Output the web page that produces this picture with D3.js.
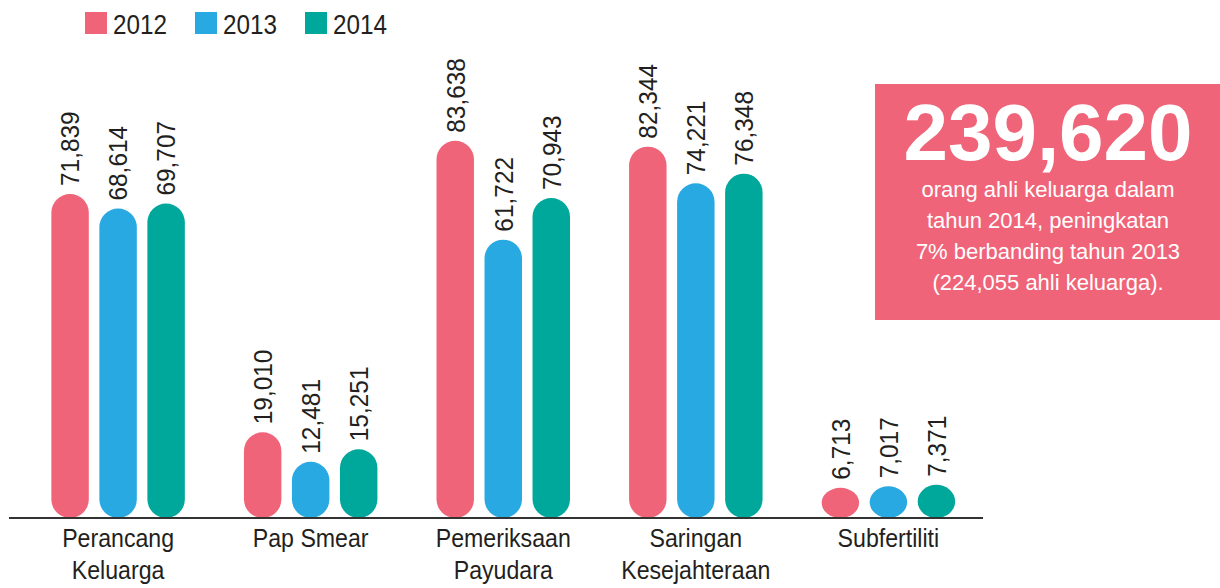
<!DOCTYPE html>
<html>
<head>
<meta charset="utf-8">
<script src="https://cdn.jsdelivr.net/npm/d3@7"></script>
<style>
  html, body { margin: 0; padding: 0; background: #fff; }
  svg { display: block; font-family: "Liberation Sans", Arial, sans-serif; }
</style>
</head>
<body>
<svg id="chart" width="1220" height="588"></svg>
<script>
// ---- data ----
const categories = ["Perancang Keluarga", "Pap Smear", "Pemeriksaan Payudara", "Saringan Kesejahteraan", "Subfertiliti"];
const categoryLines = [["Perancang", "Keluarga"], ["Pap Smear"], ["Pemeriksaan", "Payudara"], ["Saringan", "Kesejahteraan"], ["Subfertiliti"]];
const years = ["2012", "2013", "2014"];
const values2012 = [71839, 19010, 83638, 82344, 6713];
const values2013 = [68614, 12481, 61722, 74221, 7017];
const values2014 = [69707, 15251, 70943, 76348, 7371];
const calloutNumber = "239,620";
const calloutLines = ["orang ahli keluarga dalam", "tahun 2014, peningkatan", "7% berbanding tahun 2013", "(224,055 ahli keluarga)."];

// ---- styles ----
const colors = { "2012": "#F06479", "2013": "#29A9E1", "2014": "#00A79B" };
const textColor = "#231F20";
const seriesByYear = { "2012": values2012, "2013": values2013, "2014": values2014 };

const svg = d3.select("#chart");
const baseline = 518;

const x0 = d3.scaleBand().domain(categories).range([22, 984.5]).paddingInner(0.252).paddingOuter(0.125);
const x1 = d3.scaleBand().domain(years).range([0, x0.bandwidth()]).paddingInner(0.22).paddingOuter(0.11);
const y = d3.scaleLinear().domain([0, 100000]).range([baseline, baseline - 451]);

const rows = [];
categories.forEach((c, i) => years.forEach(yr => rows.push({ cat: c, year: yr, value: seriesByYear[yr][i] })));

const fmt = d3.format(",");

// bars (capsules)
const bw = x1.bandwidth();
svg.append("g").selectAll("rect").data(rows).join("rect")
  .attr("x", d => x0(d.cat) + x1(d.year))
  .attr("y", d => y(d.value))
  .attr("width", bw)
  .attr("height", d => baseline - y(d.value))
  .attr("rx", bw / 2)
  .attr("ry", bw / 2)
  .attr("fill", d => colors[d.year]);

// value labels
svg.append("g").selectAll("text").data(rows).join("text")
  .attr("transform", d => `translate(${x0(d.cat) + x1(d.year) + bw / 2},${y(d.value) - 8}) rotate(-90) scale(0.94,1)`)
  .attr("text-anchor", "start")
  .attr("dominant-baseline", "central")
  .attr("font-size", 26)
  .attr("fill", textColor)
  .text(d => fmt(d.value));

// axis line
svg.append("line")
  .attr("x1", 9).attr("x2", 983)
  .attr("y1", baseline).attr("y2", baseline)
  .attr("stroke", "#333").attr("stroke-width", 2);

// category labels
const catG = svg.append("g").selectAll("g").data(categories).join("g")
  .attr("transform", d => `translate(${x0(d) + x0.bandwidth() / 2},0)`);
catG.each(function (d, i) {
  const g = d3.select(this);
  categoryLines[i].forEach((line, j) => {
    g.append("text")
      .attr("transform", `translate(0,${547 + j * 32}) scale(0.89,1)`)
      .attr("text-anchor", "middle")
      .attr("font-size", 26)
      .attr("fill", textColor)
      .text(line);
  });
});

// legend
const legend = svg.append("g").selectAll("g").data(years).join("g")
  .attr("transform", (d, i) => `translate(${85 + i * 110},12)`);
legend.append("rect").attr("width", 22).attr("height", 22).attr("fill", d => colors[d]);
legend.append("text")
  .attr("transform", "translate(28,22) scale(0.9,1)")
  .attr("font-size", 27)
  .attr("fill", textColor)
  .text(d => d);

// callout box
const box = svg.append("g");
box.append("rect").attr("x", 875).attr("y", 84).attr("width", 345).attr("height", 236).attr("fill", "#F06479");
box.append("text")
  .attr("x", 1048).attr("y", 160)
  .attr("text-anchor", "middle")
  .attr("font-size", 80).attr("font-weight", "bold")
  .attr("fill", "#fff")
  .text(calloutNumber);
box.selectAll("text.sub").data(calloutLines).join("text")
  .attr("class", "sub")
  .attr("x", 1048)
  .attr("y", (d, i) => 197 + i * 31)
  .attr("text-anchor", "middle")
  .attr("font-size", 22)
  .attr("fill", "#fff")
  .text(d => d);
</script>
</body>
</html>
